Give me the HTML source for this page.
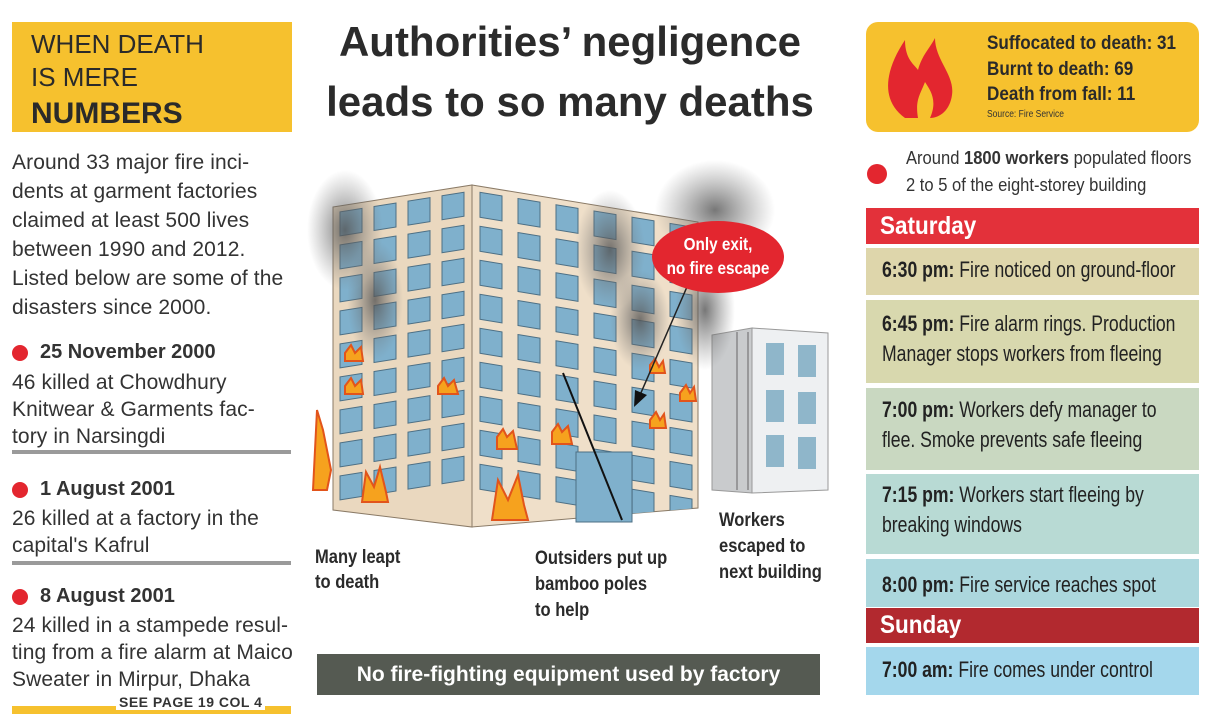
<!DOCTYPE html>
<html><head><meta charset="utf-8"><style>
body{margin:0;width:1219px;height:714px;background:#fff;position:relative;overflow:hidden;font-family:"Liberation Sans",sans-serif;color:#2a2a2a}
.a{position:absolute;white-space:nowrap}
.c{display:inline-block;transform-origin:0 0;white-space:nowrap}
.row{position:absolute;left:866px;width:333px;font-size:22px;line-height:30px;padding-left:16px;box-sizing:border-box;color:#222;overflow:hidden}
.row .c{transform:scaleX(.8)}
.dot{position:absolute;width:16px;height:16px;border-radius:50%;background:#e3262f}
.bt{font-size:21px;letter-spacing:.1px;color:#333}
</style></head><body>
<!-- left column -->
<div class="a" style="left:12px;top:22px;width:280px;height:110px;background:#f6c12e"></div>
<div class="a" style="left:31px;top:28px;font-size:26px;line-height:33px;color:#2a2a2a">WHEN DEATH<br>IS MERE</div>
<div class="a" style="left:31px;top:97px;font-size:30px;font-weight:bold;color:#2a2a2a">NUMBERS</div>
<div class="a bt" style="left:12px;top:148px;line-height:29px">Around 33 major fire inci-<br>dents at garment factories<br>claimed at least 500 lives<br>between 1990 and 2012.<br>Listed below are some of the<br>disasters since 2000.</div>
<div class="dot" style="left:12px;top:345px"></div>
<div class="a" style="left:40px;top:341px;font-size:20px;font-weight:bold;color:#333">25 November 2000</div>
<div class="a bt" style="left:12px;top:369px;line-height:27px">46 killed at Chowdhury<br>Knitwear &amp; Garments fac-<br>tory in Narsingdi</div>
<div class="a" style="left:12px;top:450px;width:279px;height:4px;background:#9a9a9a"></div>
<div class="dot" style="left:12px;top:482px"></div>
<div class="a" style="left:40px;top:478px;font-size:20px;font-weight:bold;color:#333">1 August 2001</div>
<div class="a bt" style="left:12px;top:505px;line-height:27px">26 killed at a factory in the<br>capital's Kafrul</div>
<div class="a" style="left:12px;top:561px;width:279px;height:4px;background:#9a9a9a"></div>
<div class="dot" style="left:12px;top:589px"></div>
<div class="a" style="left:40px;top:585px;font-size:20px;font-weight:bold;color:#333">8 August 2001</div>
<div class="a bt" style="left:12px;top:612px;line-height:27px">24 killed in a stampede resul-<br>ting from a fire alarm at Maico<br>Sweater in Mirpur, Dhaka</div>
<div class="a" style="left:12px;top:706px;width:279px;height:8px;background:#f6c12e"></div>
<div class="a" style="left:116px;top:694px;font-size:14px;font-weight:bold;color:#333;background:#fff;padding:0 3px;letter-spacing:.5px">SEE PAGE 19 COL 4</div>

<!-- title -->
<div class="a" style="left:290px;top:12px;width:560px;text-align:center;font-size:42px;line-height:60px;font-weight:bold;color:#2b2b2b">Authorities’ negligence<br>leads to so many deaths</div>

<!-- illustration -->
<svg class="a" style="left:0;top:0" width="1219" height="714">
<defs>
<pattern id="wl" x="0" y="0" width="34" height="33" patternUnits="userSpaceOnUse"><rect x="7" y="6" width="22" height="24" fill="#7fb0cc" stroke="#4d6f84" stroke-width="1"/></pattern>
<pattern id="wr" x="0" y="0" width="38" height="34" patternUnits="userSpaceOnUse"><rect x="8" y="6" width="22" height="25" fill="#7fb0cc" stroke="#4d6f84" stroke-width="1"/></pattern>
<radialGradient id="sm"><stop offset="0" stop-color="#555" stop-opacity=".8"/><stop offset="1" stop-color="#777" stop-opacity="0"/></radialGradient>
<clipPath id="cl"><polygon points="333,207 472,185 472,527 333,510"/></clipPath>
<clipPath id="cr"><polygon points="472,185 698,222 698,508 472,527"/></clipPath>
</defs>
<polygon points="712,335 752,328 752,493 712,490" fill="#c9cbcd" stroke="#999"/>
<polygon points="752,328 828,333 828,490 752,493" fill="#eef0f2" stroke="#999"/>
<g fill="#8fb6ca"><rect x="766" y="343" width="18" height="32"/><rect x="798" y="345" width="18" height="32"/><rect x="766" y="390" width="18" height="32"/><rect x="798" y="392" width="18" height="32"/><rect x="766" y="435" width="18" height="32"/><rect x="798" y="437" width="18" height="32"/></g>
<line x1="737" y1="332" x2="737" y2="490" stroke="#666"/><line x1="748" y1="332" x2="748" y2="490" stroke="#666"/>
<polygon points="333,207 472,185 472,527 333,510" fill="#ead8bf" stroke="#8a7a66"/>
<g clip-path="url(#cl)"><g transform="translate(333,207) skewY(-9)"><rect x="0" y="0" width="139" height="300" fill="url(#wl)"/></g></g>
<polygon points="472,185 698,222 698,508 472,527" fill="#efdfc9" stroke="#8a7a66"/>
<g clip-path="url(#cr)"><g transform="translate(472,185) skewY(9.3)"><rect x="6" y="0" width="220" height="304" fill="url(#wr)"/></g></g>
<rect x="576" y="452" width="56" height="70" fill="#7fb0cc" stroke="#4d6f84"/>
<g fill="#f6a21e" stroke="#e2541b" stroke-width="2">
<path d="M345 353 l6 -8 4 8 6 -6 2 14 h-18z"/><path d="M345 386 l6 -8 4 8 6 -6 2 14 h-18z"/>
<path d="M438 386 l6 -8 4 8 6 -6 4 14 h-20z"/><path d="M497 437 l6 -8 4 8 6 -6 4 18 h-20z"/>
<path d="M552 432 l6 -8 4 8 6 -6 4 18 h-20z"/><path d="M650 420 l6 -8 4 8 4 -6 2 14 h-16z"/>
<path d="M680 393 l6 -8 4 8 4 -6 2 14 h-16z"/><path d="M650 365 l5 -6 4 8 4 -6 2 12 h-15z"/>
<path d="M362 502 l4 -30 8 15 6 -20 6 25 2 10 h-26z"/><path d="M492 520 l6 -40 10 20 10 -25 6 30 4 15 h-36z"/>
<path d="M313 490 l4 -80 6 20 8 40 -4 20 h-14z"/>
</g>
<ellipse cx="345" cy="230" rx="38" ry="60" fill="url(#sm)"/><ellipse cx="375" cy="300" rx="28" ry="60" fill="url(#sm)"/>
<ellipse cx="610" cy="250" rx="35" ry="60" fill="url(#sm)"/><ellipse cx="640" cy="320" rx="30" ry="50" fill="url(#sm)"/>
<ellipse cx="715" cy="210" rx="60" ry="50" fill="url(#sm)"/><ellipse cx="705" cy="310" rx="30" ry="60" fill="url(#sm)"/>
<line x1="563" y1="373" x2="622" y2="520" stroke="#111" stroke-width="2"/>
<line x1="690" y1="280" x2="640" y2="395" stroke="#222" stroke-width="1.5"/>
<polygon points="634,407 635,390 647,395" fill="#111"/>
<ellipse cx="718" cy="257" rx="66" ry="36" fill="#e3262f"/>
<text x="718" y="250" text-anchor="middle" font-family="Liberation Sans,sans-serif" font-weight="bold" font-size="18" fill="#fff" transform="translate(718,0) scale(.85,1) translate(-718,0)">Only exit,</text>
<text x="718" y="274" text-anchor="middle" font-family="Liberation Sans,sans-serif" font-weight="bold" font-size="18" fill="#fff" transform="translate(718,0) scale(.85,1) translate(-718,0)">no fire escape</text>
</svg>
<div class="a" style="left:315px;top:545px;font-size:19px;line-height:25px;font-weight:bold;color:#2a2a2a"><div class="c" style="transform:scaleX(.87)">Many leapt<br>to death</div></div>
<div class="a" style="left:535px;top:546px;font-size:19px;line-height:26px;font-weight:bold;color:#2a2a2a"><div class="c" style="transform:scaleX(.87)">Outsiders put up<br>bamboo poles<br>to help</div></div>
<div class="a" style="left:719px;top:508px;font-size:19px;line-height:26px;font-weight:bold;color:#2a2a2a"><div class="c" style="transform:scaleX(.87)">Workers<br>escaped to<br>next building</div></div>
<div class="a" style="left:317px;top:654px;width:503px;height:41px;background:#555a52;color:#fff;font-weight:bold;font-size:21px;line-height:41px;text-align:center">No fire-fighting equipment used by factory</div>

<!-- right column -->
<div class="a" style="left:866px;top:22px;width:333px;height:110px;background:#f6c12e;border-radius:12px"></div>
<svg class="a" style="left:0;top:0" width="1219" height="140">
<path d="M905 118 C880 100 885 70 905 40 C905 60 915 65 918 70 C922 55 930 48 935 38 C935 60 955 75 952 95 C950 110 940 118 930 118 C938 100 930 90 925 82 C920 95 915 100 918 118 Z" fill="#e3262f"/>
</svg>
<div class="a" style="left:987px;top:31px;font-size:19px;line-height:25.5px;font-weight:bold;color:#2a2a2a"><div class="c" style="transform:scaleX(.9)">Suffocated to death: 31<br>Burnt to death: 69<br>Death from fall: 11</div></div>
<div class="a" style="left:987px;top:109px;font-size:10px;color:#333"><div class="c" style="transform:scaleX(.85)">Source: Fire Service</div></div>
<div class="dot" style="left:867px;top:164px;width:20px;height:20px"></div>
<div class="a" style="left:906px;top:145px;font-size:18px;line-height:27px;color:#333"><div class="c" style="transform:scaleX(.92)">Around <b>1800 workers</b> populated floors<br>2 to 5 of the eight-storey building</div></div>
<div class="row" style="top:208px;height:36px;background:#e3313a;color:#fff;font-weight:bold;font-size:25px;line-height:36px;padding-left:14px"><span class="c" style="transform:scaleX(.9)">Saturday</span></div>
<div class="row" style="top:248px;height:47px;background:#ded6ab;padding-top:7px"><span class="c"><b>6:30 pm:</b> Fire noticed on ground-floor</span></div>
<div class="row" style="top:300px;height:83px;background:#d8d8ae;padding-top:9px"><span class="c"><b>6:45 pm:</b> Fire alarm rings. Production<br>Manager stops workers from fleeing</span></div>
<div class="row" style="top:388px;height:82px;background:#c9d8c1;padding-top:7px"><span class="c"><b>7:00 pm:</b> Workers defy manager to<br>flee. Smoke prevents safe fleeing</span></div>
<div class="row" style="top:474px;height:80px;background:#b8dad4;padding-top:6px"><span class="c"><b>7:15 pm:</b> Workers start fleeing by<br>breaking windows</span></div>
<div class="row" style="top:559px;height:48px;background:#acd7dd;padding-top:11px"><span class="c"><b>8:00 pm:</b> Fire service reaches spot</span></div>
<div class="row" style="top:608px;height:35px;background:#b2292f;color:#fff;font-weight:bold;font-size:25px;line-height:35px;padding-left:14px"><span class="c" style="transform:scaleX(.9)">Sunday</span></div>
<div class="row" style="top:647px;height:48px;background:#a4d7ec;padding-top:8px"><span class="c"><b>7:00 am:</b> Fire comes under control</span></div>
</body></html>
